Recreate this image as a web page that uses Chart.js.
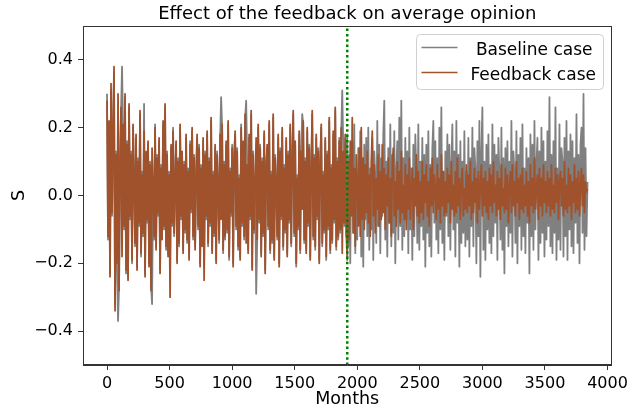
<!DOCTYPE html>
<html>
<head>
<meta charset="utf-8">
<script src="https://cdn.jsdelivr.net/npm/chart.js@4"></script>
<style>
  html, body { margin: 0; padding: 0; background: #fff; }
  #wrap { width: 632px; height: 413px; }
</style>
</head>
<body>
<div id="wrap"><canvas id="chart" width="632" height="413"></canvas></div>
<script>
// one sample every STEP months (20 samples per row = 160 months)
const STEP = 8;

const baseline = [
  0.30, -0.13, 0.21, -0.23, 0.31, -0.06, 0.19, 0.36, -0.32, 0.13, -0.21, -0.37, -0.27, 0.09, 0.25, 0.38, 0.20, -0.10, 0.29, -0.23,
  0.16, -0.24, 0.26, -0.07, 0.13, -0.20, 0.20, 0.05, -0.15, 0.17, -0.21, 0.11, -0.09, 0.24, -0.18, 0.07, -0.12, 0.27, -0.23, 0.12,
  -0.08, 0.15, -0.20, 0.10, -0.27, -0.32, 0.03, -0.13, 0.21, -0.15, 0.12, -0.06, 0.16, -0.22, 0.09, -0.12, 0.21, -0.10, 0.26, -0.16,
  0.13, -0.17, 0.07, -0.24, 0.14, -0.09, 0.20, -0.12, 0.04, 0.15, -0.19, 0.11, -0.15, 0.20, -0.07, 0.12, -0.16, 0.10, -0.11, 0.17,
  -0.14, 0.08, -0.18, 0.16, -0.05, 0.19, -0.13, 0.12, -0.15, 0.06, 0.17, -0.10, 0.15, -0.20, 0.09, -0.14, 0.16, -0.21, 0.13, -0.07,
  0.18, -0.15, 0.11, -0.09, 0.22, -0.16, 0.07, -0.12, 0.14, -0.19, 0.13, 0.03, -0.14, 0.17, 0.29, 0.20, -0.17, 0.10, -0.13, 0.15,
  -0.11, 0.21, -0.19, 0.08, -0.06, 0.15, -0.20, 0.12, 0.18, -0.10, 0.14, -0.16, 0.06, -0.18, 0.21, -0.09, 0.15, -0.13, 0.23, 0.28,
  0.10, -0.16, 0.17, -0.07, 0.24, -0.21, 0.13, -0.11, 0.05, -0.29, -0.14, 0.20, -0.08, 0.15, -0.17, 0.11, -0.12, 0.18, -0.22, 0.09,
  0.14, -0.10, 0.21, -0.17, 0.07, -0.14, 0.23, -0.18, 0.12, 0.04, -0.13, 0.17, -0.20, 0.14, -0.07, 0.19, -0.16, 0.09, -0.11, 0.16,
  -0.17, 0.13, -0.08, 0.20, -0.15, 0.10, 0.24, -0.12, 0.15, -0.21, 0.06, -0.10, 0.18, -0.17, 0.14, 0.24, 0.21, -0.14, 0.11, -0.16,
  0.19, -0.09, 0.15, -0.18, 0.08, 0.24, -0.13, 0.12, -0.16, 0.17, -0.07, 0.14, -0.19, 0.10, 0.20, -0.15, 0.07, -0.11, 0.16, -0.19,
  0.13, -0.10, 0.22, -0.17, 0.09, -0.14, 0.18, -0.08, 0.25, -0.16, 0.11, -0.13, 0.17, -0.11, 0.19, 0.31, 0.14, -0.09, 0.17, -0.12,
  0.18, -0.15, 0.12, -0.20, 0.09, 0.16, -0.11, 0.21, -0.17, 0.06, -0.13, 0.14, -0.08, 0.19, -0.18, 0.10, -0.21, 0.15, -0.07, 0.17,
  -0.12, 0.20, -0.16, 0.08, -0.10, 0.17, -0.19, 0.13, 0.05, -0.14, 0.22, -0.09, 0.15, -0.17, 0.11, -0.06, 0.18, 0.28, -0.13, 0.10,
  -0.18, 0.14, -0.08, 0.21, -0.15, 0.12, -0.11, 0.19, -0.20, 0.07, 0.16, -0.13, 0.23, -0.09, 0.28, -0.16, 0.11, -0.12, 0.17, -0.07,
  0.13, -0.17, 0.20, -0.10, 0.08, -0.19, 0.15, -0.12, 0.18, 0.06, -0.14, 0.21, -0.16, 0.10, -0.09, 0.17, -0.13, 0.12, -0.21, 0.15,
  -0.11, 0.19, -0.15, 0.09, -0.18, 0.14, 0.22, -0.08, 0.16, -0.13, 0.11, -0.17, 0.20, -0.10, 0.26, -0.14, 0.07, -0.19, 0.13, -0.06,
  0.18, -0.12, 0.15, -0.16, 0.09, 0.21, -0.10, 0.13, -0.18, 0.22, -0.08, 0.12, -0.21, 0.16, -0.14, 0.10, -0.11, 0.19, -0.15, 0.07,
  -0.13, 0.17, -0.18, 0.11, -0.09, 0.20, -0.15, 0.14, 0.08, -0.20, 0.16, -0.12, 0.22, -0.24, 0.13, 0.26, -0.16, 0.10, -0.19, 0.15,
  -0.10, 0.18, -0.14, 0.09, -0.17, 0.21, -0.12, 0.15, -0.08, 0.12, -0.19, 0.17, 0.06, -0.13, 0.20, -0.16, 0.11, -0.23, 0.14, -0.09,
  0.16, -0.15, 0.10, -0.11, 0.22, -0.18, 0.13, 0.07, -0.14, 0.19, -0.20, 0.12, -0.09, 0.17, -0.16, 0.21, -0.12, 0.08, -0.17, 0.14,
  -0.08, 0.11, -0.23, 0.18, -0.12, 0.15, -0.16, 0.22, -0.10, 0.09, 0.17, -0.19, 0.13, -0.14, 0.20, -0.11, 0.16, -0.18, 0.10, -0.13,
  0.19, -0.09, 0.29, -0.15, 0.12, -0.17, 0.16, -0.11, 0.26, -0.19, 0.08, -0.13, 0.21, -0.16, 0.14, 0.10, -0.18, 0.17, -0.12, 0.22,
  -0.19, 0.13, -0.10, 0.18, -0.15, 0.16, -0.17, 0.11, -0.08, 0.24, -0.14, 0.12, -0.20, 0.15, 0.20, -0.11, 0.30, -0.16, 0.14, -0.12,
  0.04
];

const feedback = [
  0.28, -0.12, 0.22, -0.24, 0.33, -0.05, 0.18, 0.38, -0.34, 0.12, -0.20, 0.30, -0.28, 0.08, 0.26, -0.18, 0.21, -0.09, 0.30, -0.22,
  0.15, -0.25, 0.27, -0.06, 0.12, -0.19, 0.21, 0.04, -0.14, 0.18, -0.22, 0.10, -0.08, 0.25, -0.17, 0.06, -0.11, 0.19, -0.24, 0.13,
  -0.07, 0.16, -0.21, 0.09, -0.28, 0.14, 0.02, -0.12, 0.20, -0.16, 0.11, -0.05, 0.17, -0.23, 0.08, -0.13, 0.22, -0.09, 0.27, -0.15,
  0.12, -0.18, 0.06, -0.30, 0.15, -0.08, 0.19, -0.11, 0.03, 0.16, -0.20, 0.10, -0.14, 0.21, -0.06, 0.13, -0.17, 0.09, -0.10, 0.18,
  -0.13, 0.07, -0.19, 0.15, -0.04, 0.20, -0.12, 0.11, -0.16, 0.05, 0.18, -0.09, 0.14, -0.21, 0.08, -0.15, 0.17, -0.25, 0.12, -0.06,
  0.19, -0.14, 0.10, -0.08, 0.23, -0.17, 0.06, -0.11, 0.15, -0.20, 0.12, 0.02, -0.13, 0.18, -0.07, 0.21, -0.16, 0.09, -0.12, 0.16,
  -0.10, 0.22, -0.18, 0.07, -0.05, 0.14, -0.21, 0.11, 0.19, -0.09, 0.13, -0.15, 0.05, -0.19, 0.20, -0.08, 0.16, -0.12, 0.24, -0.14,
  0.09, -0.17, 0.18, -0.06, 0.25, -0.22, 0.12, -0.10, 0.04, 0.17, -0.13, 0.21, -0.07, 0.14, -0.18, 0.10, -0.11, 0.19, -0.23, 0.08,
  0.15, -0.09, 0.22, -0.16, 0.06, -0.13, 0.24, -0.19, 0.11, 0.03, -0.12, 0.18, -0.21, 0.13, -0.06, 0.20, -0.15, 0.08, -0.10, 0.17,
  -0.18, 0.12, -0.07, 0.21, -0.14, 0.09, 0.25, -0.11, 0.16, -0.20, 0.05, -0.09, 0.19, -0.16, 0.13, -0.04, 0.22, -0.13, 0.10, -0.17,
  0.20, -0.08, 0.14, -0.19, 0.07, 0.25, -0.12, 0.11, -0.15, 0.18, -0.06, 0.13, -0.20, 0.09, 0.21, -0.14, 0.06, -0.10, 0.17, -0.18,
  0.12, -0.09, 0.23, -0.16, 0.08, -0.13, 0.19, -0.07, 0.26, -0.15, 0.10, -0.12, 0.16, -0.10, 0.20, -0.17, 0.13, -0.08, 0.18, -0.11,
  -0.19, 0.10, -0.13, 0.16, -0.06, 0.23, -0.11, 0.08, -0.15, 0.12, 0.03, -0.09, 0.14, -0.12, 0.20, -0.07, 0.11, -0.10, 0.09, -0.05,
  0.13, -0.08, 0.06, -0.12, 0.10, 0.19, -0.06, 0.09, -0.11, 0.05, -0.04, 0.12, -0.09, 0.07, -0.07, 0.15, -0.05, 0.08, -0.10, 0.06,
  -0.03, 0.11, -0.08, 0.05, -0.12, 0.09, 0.14, -0.06, 0.04, -0.09, 0.10, -0.04, 0.07, -0.08, 0.13, -0.05, 0.03, -0.07, 0.09, -0.10,
  0.06, -0.04, 0.11, -0.07, 0.02, 0.08, -0.10, 0.05, -0.03, 0.12, -0.06, 0.07, -0.08, 0.04, -0.05, 0.10, -0.07, 0.06, -0.02, 0.09,
  -0.06, 0.04, -0.09, 0.08, -0.03, 0.11, -0.05, 0.06, 0.02, -0.07, 0.09, -0.04, 0.05, -0.08, 0.12, -0.03, 0.07, -0.06, 0.04, -0.05,
  0.08, -0.02, 0.06, -0.08, 0.10, -0.04, 0.03, -0.06, 0.07, -0.05, 0.11, -0.03, 0.05, -0.07, 0.04, 0.08, -0.06, 0.02, -0.04, 0.09,
  -0.05, 0.06, -0.03, 0.10, -0.07, 0.04, -0.05, 0.08, -0.02, 0.05, -0.08, 0.07, -0.04, 0.03, 0.09, -0.06, 0.05, -0.03, 0.07, -0.05,
  0.04, -0.07, 0.08, -0.03, 0.06, -0.05, 0.10, -0.02, 0.03, -0.06, 0.07, -0.04, 0.05, -0.07, 0.09, -0.03, 0.02, -0.05, 0.08, -0.04,
  0.06, -0.08, 0.03, 0.07, -0.05, 0.09, -0.03, 0.04, -0.06, 0.10, -0.02, 0.05, -0.07, 0.06, -0.04, 0.08, -0.05, 0.03, -0.03, 0.07,
  -0.06, 0.04, -0.08, 0.09, -0.03, 0.05, -0.05, 0.11, -0.04, 0.02, 0.06, -0.07, 0.08, -0.03, 0.05, -0.06, 0.09, -0.02, 0.04, -0.05,
  0.07, -0.03, 0.05, -0.06, 0.09, -0.04, 0.03, -0.05, 0.08, -0.02, 0.06, -0.07, 0.04, 0.07, -0.03, 0.05, -0.06, 0.10, -0.04, 0.03,
  -0.05, 0.08, -0.03, 0.06, -0.07, 0.04, -0.02, 0.09, -0.05, 0.05, -0.04, 0.07, -0.06, 0.03, 0.08, -0.03, 0.06, -0.05, 0.04, 0.01,
  0.02
];

const feedbackStart = 1920;   // month where the feedback is switched on
const monthTicks = [0, 500, 1000, 1500, 2000, 2500, 3000, 3500, 4000];
const sTicks = [-0.4, -0.2, 0.0, 0.2, 0.4];
const seriesNames = [' Baseline case', 'Feedback case'];
const seriesColors = ['#808080', '#a0522d'];

const FONT = "'DejaVu Sans', sans-serif";
Chart.defaults.font.family = FONT;
Chart.defaults.color = '#000';

const toPoints = (arr) => arr.map((v, i) => ({ x: i * STEP, y: v }));

// top/right spines like matplotlib
const frame = {
  id: 'frame',
  afterDraw(chart) {
    const { ctx, chartArea: a } = chart;
    ctx.save();
    ctx.strokeStyle = '#333';
    ctx.lineWidth = 1;
    ctx.strokeRect(Math.round(a.left) + 0.5, Math.round(a.top) + 0.5,
      Math.round(a.right - a.left) - 1, Math.round(a.bottom - a.top) - 1);
    ctx.restore();
  }
};

const plotTitle = {
  id: 'plotTitle',
  afterDraw(chart) {
    const { ctx, chartArea: a } = chart;
    ctx.save();
    ctx.font = '18px ' + FONT;
    ctx.fillStyle = '#000';
    ctx.textAlign = 'center';
    ctx.textBaseline = 'alphabetic';
    ctx.fillText('Effect of the feedback on average opinion', (a.left + a.right) / 2, 18.5);
    ctx.restore();
  }
};

const legendBox = {
  id: 'legendBox',
  afterDraw(chart) {
    const { ctx, chartArea: a } = chart;
    const w = 187, h = 55, r = 4;
    const x = Math.round(a.right - 9 - w) + 0.5, y = Math.round(a.top + 8) + 0.5;
    ctx.save();
    ctx.beginPath();
    ctx.moveTo(x + r, y);
    ctx.lineTo(x + w - r, y);
    ctx.arcTo(x + w, y, x + w, y + r, r);
    ctx.lineTo(x + w, y + h - r);
    ctx.arcTo(x + w, y + h, x + w - r, y + h, r);
    ctx.lineTo(x + r, y + h);
    ctx.arcTo(x, y + h, x, y + h - r, r);
    ctx.lineTo(x, y + r);
    ctx.arcTo(x, y, x + r, y, r);
    ctx.closePath();
    ctx.fillStyle = 'rgba(255,255,255,0.8)';
    ctx.fill();
    ctx.strokeStyle = '#d0d0d0';
    ctx.lineWidth = 1;
    ctx.stroke();
    ctx.font = '17px ' + FONT;
    ctx.textAlign = 'left';
    ctx.textBaseline = 'alphabetic';
    seriesNames.forEach((name, i) => {
      const cy = y + 13 + i * 25;
      ctx.beginPath();
      ctx.moveTo(x + 5, cy);
      ctx.lineTo(x + 41, cy);
      ctx.strokeStyle = seriesColors[i];
      ctx.lineWidth = 1.5;
      ctx.stroke();
      ctx.fillStyle = '#000';
      ctx.fillText(name, x + 54, cy + 7);
    });
    ctx.restore();
  }
};

new Chart(document.getElementById('chart'), {
  type: 'line',
  data: {
    datasets: [
      {
        label: seriesNames[0],
        data: toPoints(baseline),
        borderColor: seriesColors[0],
        borderWidth: 1.8,
        borderJoinStyle: 'round',
        pointRadius: 0,
        tension: 0,
        order: 2
      },
      {
        label: seriesNames[1],
        data: toPoints(feedback),
        borderColor: seriesColors[1],
        borderWidth: 1.8,
        borderJoinStyle: 'round',
        pointRadius: 0,
        tension: 0,
        order: 1
      },
      {
        label: 'feedback start',
        data: [{ x: feedbackStart, y: -0.5 }, { x: feedbackStart, y: 0.5 }],
        borderColor: '#008000',
        borderWidth: 2.5,
        borderDash: [2.5, 2.8],
        borderCapStyle: 'butt',
        pointRadius: 0,
        order: 0
      }
    ]
  },
  options: {
    responsive: false,
    animation: false,
    devicePixelRatio: 1,
    layout: { padding: { top: 26, right: 17, left: 0, bottom: 0 } },
    plugins: {
      legend: { display: false },
      tooltip: { enabled: false },
      title: { display: false }
    },
    scales: {
      x: {
        type: 'linear',
        min: -192,
        max: 4032,
        bounds: 'data',
        afterBuildTicks: (scale) => { scale.ticks = monthTicks.map(v => ({ value: v })); },
        afterFit: (scale) => { scale.height = 48; },
        ticks: {
          font: { size: 16 },
          color: '#000',
          padding: 4,
          maxRotation: 0,
          autoSkip: false,
          callback: (v) => String(v)
        },
        grid: { drawOnChartArea: false, drawTicks: true, tickLength: 5, color: '#333' },
        border: { display: true, color: '#333', width: 1 },
        title: { display: true, text: 'Months', font: { size: 17.5 }, color: '#000', padding: { top: 0, bottom: 3 } }
      },
      y: {
        type: 'linear',
        min: -0.5,
        max: 0.5,
        bounds: 'data',
        afterBuildTicks: (scale) => { scale.ticks = sTicks.map(v => ({ value: v })); },
        afterFit: (scale) => { scale.width = 83; },
        ticks: {
          font: { size: 16 },
          color: '#000',
          padding: 5,
          autoSkip: false,
          callback: (v) => (v < 0 ? '\u2212' : '') + Math.abs(v).toFixed(1)
        },
        grid: { drawOnChartArea: false, drawTicks: true, tickLength: 5, color: '#333' },
        border: { display: true, color: '#333', width: 1 },
        title: { display: true, text: 'S', font: { size: 17.5 }, color: '#000', padding: { top: 9, bottom: 0 } }
      }
    }
  },
  plugins: [frame, plotTitle, legendBox]
});
</script>
</body>
</html>
